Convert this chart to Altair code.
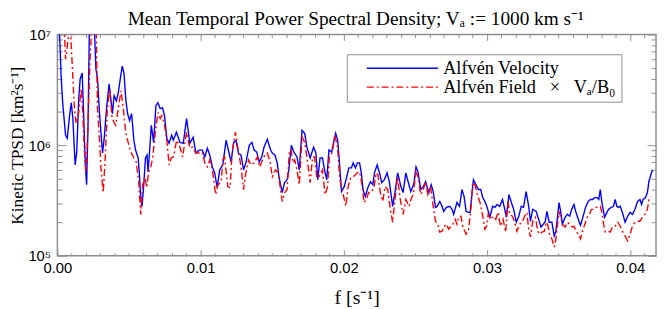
import altair as alt
import pandas as pd

# ---------------- data ----------------
S_VEL = "Alfvén Velocity"
S_FLD = "Alfvén Field\u00a0\u00a0\u00a0×\u00a0\u00a0\u00a0Vₐ/B₀"

freq_vel = [0.0, 0.00016, 0.00026, 0.00037, 0.00057, 0.00069, 0.00085, 0.00097, 0.00108, 0.00124,
            0.00135, 0.00149, 0.00159, 0.00173, 0.00182, 0.00195, 0.00204, 0.00214, 0.00223, 0.00237,
            0.00258, 0.00269, 0.0028, 0.00292, 0.00304, 0.00315, 0.00327, 0.00343, 0.00361, 0.00373,
            0.00384, 0.00396, 0.00412, 0.00425, 0.00442, 0.00453, 0.00465, 0.00477, 0.0049, 0.00504,
            0.00518, 0.00534, 0.00546, 0.00564, 0.00573, 0.00584, 0.00591, 0.00603, 0.00615, 0.00626,
            0.00633, 0.00642, 0.00656, 0.00672, 0.00688, 0.00702, 0.00718, 0.00734, 0.00748, 0.00764,
            0.0078, 0.00798, 0.0081, 0.00831, 0.00856, 0.00879, 0.00902, 0.00925, 0.00948, 0.00967,
            0.0099, 0.01012, 0.01029, 0.01047, 0.01064, 0.01082, 0.01098, 0.01116, 0.01133, 0.01155,
            0.01178, 0.01197, 0.01213, 0.01231, 0.01247, 0.01264, 0.01282, 0.013, 0.01316, 0.0134,
            0.01358, 0.01374, 0.01392, 0.01409, 0.01427, 0.01443, 0.01466, 0.01489, 0.01501, 0.01519,
            0.01535, 0.01547, 0.0157, 0.01586, 0.01604, 0.01616, 0.01634, 0.01651, 0.01673, 0.01689,
            0.01708, 0.01727, 0.01742, 0.01765, 0.01789, 0.01805, 0.01818, 0.01834, 0.01851, 0.01865,
            0.01881, 0.01896, 0.01915, 0.01927, 0.01943, 0.01957, 0.01968, 0.01984, 0.02003, 0.02019,
            0.02035, 0.02053, 0.02065, 0.02081, 0.02095, 0.0211, 0.02122, 0.02134, 0.0215, 0.02168,
            0.02186, 0.02203, 0.02214, 0.02233, 0.02249, 0.02265, 0.02283, 0.02302, 0.02318, 0.02341,
            0.02357, 0.02376, 0.02399, 0.02414, 0.02433, 0.02449, 0.02468, 0.02479, 0.0249, 0.02504,
            0.02518, 0.02537, 0.02555, 0.02571, 0.02583, 0.02594, 0.0261, 0.02624, 0.0264, 0.02652,
            0.0267, 0.02686, 0.02697, 0.02716, 0.02739, 0.02756, 0.02767, 0.0279, 0.02808, 0.02825,
            0.0284, 0.02854, 0.0287, 0.02882, 0.02905, 0.02923, 0.02939, 0.02956, 0.0297, 0.02985,
            0.03001, 0.0302, 0.03039, 0.03055, 0.0307, 0.03089, 0.03108, 0.03124, 0.03135, 0.03153,
            0.0317, 0.03186, 0.03204, 0.03222, 0.03239, 0.03255, 0.03273, 0.03291, 0.03303, 0.03319,
            0.03343, 0.0336, 0.03377, 0.03393, 0.03407, 0.03418, 0.03434, 0.03453, 0.03469, 0.03481,
            0.03503, 0.03515, 0.03526, 0.03545, 0.03561, 0.03577, 0.03591, 0.03607, 0.03619, 0.0363,
            0.03642, 0.03653, 0.03669, 0.03688, 0.03706, 0.03722, 0.03738, 0.03752, 0.03768, 0.0378,
            0.03791, 0.03802, 0.03821, 0.03837, 0.03849, 0.03867, 0.03883, 0.03895, 0.03906, 0.03918,
            0.0393, 0.03945, 0.03964, 0.03982, 0.03999, 0.04015, 0.04033, 0.04051, 0.04068, 0.04079,
            0.0409, 0.04106, 0.0412, 0.0413, 0.04144, 0.04155]

psd_vel = [1.4e7, 9.6e6, 4.22e6, 2.42e6, 1.23e6, 1.155e6, 1.85e6, 2.42e6, 1.74e6, 6.63e5,
           8.66e5, 2.63e6, 3.97e6, 4.49e6, 2.14e6, 6.63e5, 4.39e5, 1.51e6, 1.06e7, 1.45e7,
           1.18e7, 4.87e6, 4.05e6, 2.14e6, 1.31e6, 8.49e5, 1.155e6, 2.14e6, 3.58e6, 2.63e6,
           1.93e6, 2.80e6, 2.52e6, 2.97e6, 4.22e6, 5.18e6, 4.49e6, 2.63e6, 1.93e6, 1.67e6,
           1.93e6, 1.11e6, 9.03e5, 7.66e5, 5.40e5, 3.10e5, 2.80e5, 4.39e5, 7.66e5, 8.14e5,
           5.74e5, 8.14e5, 1.51e6, 1.06e6, 2.28e6, 2.42e6, 2.14e6, 2.18e6, 1.85e6, 1.155e6,
           1.04e6, 1.23e6, 1.11e6, 1.31e6, 1.06e6, 1.04e6, 1.74e6, 1.04e6, 1.18e6, 8.49e5,
           9.03e5, 9.03e5, 7.82e5, 9.40e5, 8.14e5, 6.36e5, 5.62e5, 4.13e5, 5.98e5, 6.63e5,
           1.11e6, 8.66e5, 7.05e5, 1.06e6, 1.11e6, 8.49e5, 8.14e5, 5.98e5, 6.91e5, 1.0e6,
           1.06e6, 9.03e5, 8.66e5, 7.05e5, 7.82e5, 9.60e5, 1.13e6, 9.03e5, 8.49e5, 8.14e5,
           6.91e5, 5.18e5, 3.73e5, 4.58e5, 4.87e5, 5.98e5, 1.0e6, 8.66e5, 7.82e5, 5.98e5,
           1.36e6, 1.28e6, 9.60e5, 7.66e5, 9.60e5, 8.49e5, 4.87e5, 7.66e5, 7.66e5, 5.98e5,
           4.87e5, 9.03e5, 8.66e5, 1.04e6, 1.28e6, 1.11e6, 7.35e5, 3.81e5, 4.22e5, 5.08e5,
           6.23e5, 6.23e5, 6.91e5, 6.23e5, 6.91e5, 6.91e5, 5.62e5, 3.97e5, 3.43e5, 4.13e5,
           4.67e5, 4.39e5, 5.62e5, 6.63e5, 5.62e5, 4.58e5, 4.87e5, 5.62e5, 4.67e5, 2.80e5,
           3.73e5, 5.62e5, 4.22e5, 3.73e5, 5.62e5, 4.67e5, 3.81e5, 4.13e5, 4.58e5, 6.36e5,
           5.74e5, 3.97e5, 4.22e5, 4.67e5, 4.13e5, 3.73e5, 4.39e5, 3.81e5, 2.74e5, 2.80e5,
           3.10e5, 2.80e5, 2.52e5, 2.74e5, 2.80e5, 2.63e5, 2.37e5, 3.03e5, 2.80e5, 3.97e5,
           3.43e5, 2.52e5, 2.47e5, 2.47e5, 4.87e5, 4.39e5, 3.97e5, 3.97e5, 3.36e5, 3.10e5,
           2.74e5, 2.23e5, 2.80e5, 2.74e5, 2.91e5, 2.80e5, 3.23e5, 2.63e5, 2.23e5, 3.58e5,
           3.03e5, 2.63e5, 2.01e5, 2.28e5, 2.80e5, 2.74e5, 3.81e5, 2.80e5, 2.05e5, 2.63e5,
           2.52e5, 2.14e5, 1.82e5, 1.93e5, 2.05e5, 2.52e5, 2.01e5, 2.01e5, 1.51e5, 1.67e5,
           3.03e5, 2.47e5, 1.93e5, 2.23e5, 2.37e5, 2.28e5, 2.63e5, 2.91e5, 2.52e5, 2.28e5,
           2.05e5, 1.89e5, 2.23e5, 2.74e5, 3.10e5, 3.23e5, 3.23e5, 3.36e5, 3.36e5, 3.23e5,
           3.97e5, 3.03e5, 2.23e5, 2.47e5, 2.63e5, 2.74e5, 2.80e5, 3.23e5, 2.80e5, 2.74e5,
           2.80e5, 2.47e5, 2.01e5, 2.28e5, 2.47e5, 2.37e5, 2.63e5, 3.10e5, 3.23e5, 2.91e5,
           3.23e5, 3.36e5, 3.73e5, 4.67e5, 5.40e5, 5.98e5]

freq_fld = [0.0, 0.00016, 0.00037, 0.0005, 0.00057, 0.00069, 0.0008, 0.00092, 0.00104, 0.00119,
            0.00131, 0.00149, 0.00166, 0.00177, 0.00189, 0.002, 0.00211, 0.00228, 0.00242, 0.00258,
            0.00271, 0.0028, 0.00292, 0.00306, 0.0032, 0.00334, 0.00349, 0.00366, 0.0038, 0.00394,
            0.00407, 0.00425, 0.00444, 0.00458, 0.00477, 0.00494, 0.00513, 0.00534, 0.0055, 0.00568,
            0.00582, 0.00596, 0.0061, 0.00624, 0.00637, 0.00651, 0.00665, 0.00684, 0.00702, 0.00718,
            0.00729, 0.00748, 0.00764, 0.0078, 0.00794, 0.0081, 0.00833, 0.00856, 0.00874, 0.00902,
            0.00925, 0.00943, 0.00967, 0.0099, 0.01012, 0.01029, 0.01047, 0.01064, 0.01082, 0.01105,
            0.01121, 0.01144, 0.01155, 0.01167, 0.0119, 0.01206, 0.0122, 0.01243, 0.01259, 0.01271,
            0.01282, 0.013, 0.01316, 0.01335, 0.01351, 0.01374, 0.01397, 0.01413, 0.01432, 0.0145,
            0.01466, 0.01485, 0.01501, 0.01523, 0.01542, 0.01558, 0.0157, 0.01588, 0.01604, 0.0162,
            0.01632, 0.01646, 0.01657, 0.01673, 0.01689, 0.01708, 0.01727, 0.01742, 0.01765, 0.01782,
            0.01796, 0.01811, 0.01827, 0.01851, 0.01869, 0.01887, 0.01899, 0.0192, 0.01938, 0.01957,
            0.01972, 0.01996, 0.02014, 0.0203, 0.02048, 0.02065, 0.02081, 0.02095, 0.0211, 0.02127,
            0.02141, 0.02157, 0.02173, 0.02191, 0.0221, 0.02226, 0.02238, 0.02255, 0.02272, 0.02288,
            0.02307, 0.02325, 0.02341, 0.02357, 0.02376, 0.02394, 0.02414, 0.02433, 0.02456, 0.02468,
            0.02486, 0.02502, 0.02518, 0.02537, 0.02555, 0.02571, 0.02587, 0.02606, 0.02624, 0.0264,
            0.02656, 0.0267, 0.02686, 0.02697, 0.02716, 0.02732, 0.02744, 0.02762, 0.02778, 0.0279,
            0.02801, 0.02818, 0.02831, 0.02854, 0.0287, 0.02887, 0.029, 0.02916, 0.02932, 0.02951,
            0.0297, 0.02985, 0.02997, 0.03008, 0.03025, 0.03043, 0.03061, 0.03077, 0.03094, 0.03112,
            0.0313, 0.03146, 0.03158, 0.03177, 0.03193, 0.03209, 0.03227, 0.03246, 0.03262, 0.03278,
            0.03291, 0.03303, 0.03319, 0.03338, 0.03354, 0.03365, 0.03384, 0.034, 0.03412, 0.03423,
            0.03439, 0.03453, 0.03469, 0.03481, 0.03492, 0.03503, 0.03515, 0.03526, 0.03545, 0.03561,
            0.03577, 0.03595, 0.03607, 0.03623, 0.03637, 0.03653, 0.03664, 0.03683, 0.03699, 0.03715,
            0.03729, 0.03745, 0.03757, 0.03775, 0.03791, 0.03802, 0.03814, 0.03826, 0.03844, 0.0386,
            0.03876, 0.03895, 0.03913, 0.0393, 0.03945, 0.03964, 0.03982, 0.03999, 0.04015, 0.04033,
            0.04051, 0.04068, 0.04084, 0.04102, 0.0412, 0.0413, 0.04144]

psd_fld = [1.6e7, 1.5e7, 1.31e7, 9.8e6, 5.98e6, 7.82e6, 1.06e7, 1.06e7, 5.18e6, 2.14e6,
           1.57e6, 1.97e6, 3.23e6, 1.97e6, 8.66e5, 5.74e5, 1.23e6, 5.98e6, 1.31e7, 1.45e7,
           1.06e7, 2.14e6, 1.23e6, 5.74e5, 3.73e5, 7.66e5, 2.14e6, 3.23e6, 1.85e6, 1.61e6,
           1.51e6, 2.14e6, 3.10e6, 2.28e6, 1.31e6, 1.06e6, 8.66e5, 7.66e5, 7.05e5, 4.67e5,
           2.37e5, 4.39e5, 5.18e5, 4.13e5, 5.74e5, 6.23e5, 7.66e5, 1.31e6, 1.97e6, 1.74e6,
           1.85e6, 1.51e6, 1.11e6, 6.63e5, 7.66e5, 7.82e5, 1.11e6, 9.60e5, 7.82e5, 1.31e6,
           9.40e5, 9.60e5, 8.49e5, 8.49e5, 8.66e5, 6.91e5, 6.36e5, 7.35e5, 5.98e5, 3.58e5,
           4.39e5, 4.67e5, 7.35e5, 7.82e5, 4.22e5, 4.13e5, 8.66e5, 1.31e6, 9.60e5, 7.82e5,
           6.36e5, 3.97e5, 5.62e5, 7.35e5, 6.63e5, 6.91e5, 7.82e5, 6.36e5, 7.35e5, 8.14e5,
           8.49e5, 7.05e5, 5.18e5, 5.98e5, 5.62e5, 3.97e5, 3.10e5, 3.73e5, 3.97e5, 9.03e5,
           9.03e5, 6.91e5, 7.35e5, 5.98e5, 4.39e5, 1.18e6, 1.06e6, 7.82e5, 4.58e5, 7.82e5,
           7.82e5, 5.08e5, 5.18e5, 5.98e5, 3.58e5, 4.22e5, 7.82e5, 8.66e5, 1.23e6, 9.40e5,
           4.87e5, 3.58e5, 2.80e5, 4.22e5, 5.08e5, 5.18e5, 5.40e5, 5.62e5, 5.74e5, 4.39e5,
           3.03e5, 3.23e5, 3.73e5, 3.73e5, 4.13e5, 5.62e5, 5.40e5, 3.73e5, 3.10e5, 4.22e5,
           3.97e5, 2.63e5, 2.01e5, 3.23e5, 5.18e5, 3.23e5, 2.37e5, 3.23e5, 2.80e5, 3.23e5,
           3.58e5, 5.74e5, 5.18e5, 3.58e5, 3.97e5, 4.67e5, 3.58e5, 4.22e5, 2.80e5, 2.05e5,
           1.93e5, 1.64e5, 1.67e5, 1.82e5, 1.93e5, 1.74e5, 1.82e5, 1.93e5, 2.14e5, 1.93e5,
           2.23e5, 2.28e5, 1.82e5, 1.57e5, 1.67e5, 2.63e5, 4.58e5, 4.39e5, 3.58e5, 3.03e5,
           2.28e5, 1.74e5, 1.85e5, 2.37e5, 2.14e5, 2.28e5, 2.14e5, 2.47e5, 1.85e5, 2.14e5,
           1.64e5, 3.10e5, 2.37e5, 2.28e5, 2.01e5, 1.67e5, 1.93e5, 2.01e5, 2.28e5, 2.47e5,
           1.74e5, 1.48e5, 2.05e5, 2.23e5, 1.67e5, 1.57e5, 1.64e5, 1.67e5, 2.01e5, 1.93e5,
           1.51e5, 1.42e5, 1.20e5, 1.42e5, 1.93e5, 2.52e5, 2.23e5, 1.93e5, 1.82e5, 2.01e5,
           1.93e5, 1.82e5, 1.85e5, 1.67e5, 1.57e5, 1.42e5, 1.64e5, 1.93e5, 2.23e5, 2.37e5,
           2.63e5, 2.63e5, 2.74e5, 2.74e5, 2.80e5, 2.47e5, 1.93e5, 1.64e5, 1.67e5, 1.64e5,
           1.82e5, 1.85e5, 2.01e5, 1.85e5, 1.67e5, 1.51e5, 1.36e5, 1.57e5, 1.85e5, 2.01e5,
           2.05e5, 2.05e5, 2.23e5, 2.37e5, 2.63e5, 3.23e5, 3.43e5]

# axis tick positions
x_major = [0.0, 0.01, 0.02, 0.03, 0.04]
x_minor = [0.001, 0.002, 0.003, 0.004, 0.005, 0.006, 0.007, 0.008, 0.009,
           0.011, 0.012, 0.013, 0.014, 0.015, 0.016, 0.017, 0.018, 0.019,
           0.021, 0.022, 0.023, 0.024, 0.025, 0.026, 0.027, 0.028, 0.029,
           0.031, 0.032, 0.033, 0.034, 0.035, 0.036, 0.037, 0.038, 0.039,
           0.041]
y_major = [1e5, 1e6, 1e7]
y_minor = [2e5, 3e5, 4e5, 5e5, 6e5, 7e5, 8e5, 9e5,
           2e6, 3e6, 4e6, 5e6, 6e6, 7e6, 8e6, 9e6]

# ---------------- build table ----------------
rows = []
for f, v in zip(freq_vel, psd_vel):
    rows.append({"f": f, "psd": v, "series": S_VEL})
for f, v in zip(freq_fld, psd_fld):
    rows.append({"f": f, "psd": v, "series": S_FLD})
df = pd.DataFrame(rows)

GRAY = "#8f8f8f"
SERIF = "Liberation Serif"
SANS = "Liberation Sans"

xscale = alt.Scale(domain=[0, 0.0418], nice=False, zero=False)
yscale = alt.Scale(type="log", domain=[1e5, 1e7], nice=False)


def tick_axis(orient, values, size):
    return alt.Axis(orient=orient, values=values, tickSize=size, offset=-size,
                    labels=False, title=None, domain=False, grid=False,
                    tickColor=GRAY, tickWidth=1)


legend = alt.Legend(
    orient="none", legendX=293, legendY=20, title=None,
    symbolType="M-4.5,0H4.5", symbolSize=256, symbolStrokeWidth=1.5,
    symbolOffset=42, labelOffset=32,
    labelFont=SERIF, labelFontSize=18.5, labelColor="black", labelLimit=500,
    padding=5, rowPadding=-4,
    strokeColor=GRAY, fillColor="white",
)

series_domain = [S_VEL, S_FLD]

lines = alt.Chart(df).mark_line(clip=True, strokeWidth=1.4).encode(
    x=alt.X("f:Q", scale=xscale, axis=alt.Axis(
        orient="bottom", values=x_major, format=".2f", tickSize=6, offset=-6,
        labelPadding=5, labelFlush=False, title="f [s⁻¹]", titlePadding=12,
        titleFontSize=20,
        domain=False, grid=False, tickColor=GRAY, tickWidth=1)),
    y=alt.Y("psd:Q", scale=yscale, axis=alt.Axis(
        orient="left", values=y_major, tickSize=9, offset=-9, labelPadding=7,
        labelExpr="datum.value > 5e6 ? '10⁷' : datum.value > 5e5 ? '10⁶' : '10⁵'",
        title="Kinetic TPSD [km²s⁻¹]", titlePadding=1, titleFontSize=17.5,
        domain=False, grid=False, tickColor=GRAY, tickWidth=1)),
    color=alt.Color("series:N", scale=alt.Scale(domain=series_domain,
                                                range=["#0000ff", "#ff0000"]),
                    legend=legend),
    strokeDash=alt.StrokeDash("series:N", scale=alt.Scale(domain=series_domain,
                                                          range=[[1, 0], [7, 3, 2, 3]]),
                              legend=legend),
)

ghost1 = alt.Chart(df).mark_line(strokeOpacity=0, clip=True).encode(
    x=alt.X("f:Q", scale=xscale, axis=tick_axis("top", x_major, 6)),
    y=alt.Y("psd:Q", scale=yscale, axis=tick_axis("right", y_major, 9)),
    detail="series:N",
)
ghost2 = alt.Chart(df).mark_line(strokeOpacity=0, clip=True).encode(
    x=alt.X("f:Q", scale=xscale, axis=tick_axis("bottom", x_minor, 3)),
    y=alt.Y("psd:Q", scale=yscale, axis=tick_axis("left", y_minor, 5)),
    detail="series:N",
)
ghost3 = alt.Chart(df).mark_line(strokeOpacity=0, clip=True).encode(
    x=alt.X("f:Q", scale=xscale, axis=tick_axis("top", x_minor, 3)),
    y=alt.Y("psd:Q", scale=yscale, axis=tick_axis("right", y_minor, 5)),
    detail="series:N",
)

chart = alt.layer(ghost1, ghost2, ghost3, lines).resolve_axis(
    x="independent", y="independent"
).properties(
    width=606, height=224,
    padding={"left": 50, "top": 25, "right": 2, "bottom": 52},
    autosize=alt.AutoSizeParams(type="none"),
    title=alt.Title("Mean Temporal Power Spectral Density; Vₐ := 1000 km s⁻¹",
                    font=SERIF, fontSize=19.5, fontWeight="normal", color="black",
                    frame="group", anchor="middle", baseline="alphabetic",
                    offset=0, dy=16.5, dx=-1),
).configure_view(
    stroke=GRAY, strokeWidth=1.5
).configure_axis(
    labelFont=SANS, labelFontSize=15, labelColor="black",
    titleFont=SERIF, titleFontSize=18, titleFontWeight="normal", titleColor="black",
)

chart.save("out.html", embed_options={"renderer": "svg", "actions": False})
